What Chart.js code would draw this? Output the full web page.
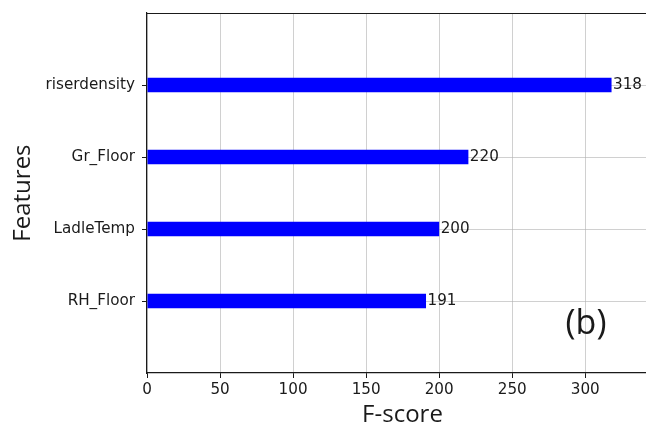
<!DOCTYPE html>
<html>
<head>
<meta charset="utf-8">
<script src="https://cdn.jsdelivr.net/npm/chart.js@4"></script>
<style>
  html, body { margin: 0; padding: 0; background: #fff; overflow: hidden; }
  #wrap { width: 646px; height: 427px; overflow: hidden; position: relative; }
  canvas { display: block; }
</style>
</head>
<body>
<div id="wrap"><canvas id="c" width="662" height="427"></canvas></div>
<script>
// Feature importance (F-score), listed top to bottom
const features = ['riserdensity', 'Gr_Floor', 'LadleTemp', 'RH_Floor'];
const fScores = [318, 220, 200, 191];
const xTickValues = [0, 50, 100, 150, 200, 250, 300];
const xLimit = 349.8;          // 1.1 x the largest score
const panelTag = '(b)';
const panelTagAt = { x: 300.5, y: 4.32 };

// blank slots above and below give the margins of the y range
const yLabels = ['', ...features, ''];
const yValues = [null, ...fScores, null];

const textColor = '#1a1a1a';
const spineColor = '#1a1a1a';
const gridColor = 'rgba(176,176,176,0.6)';
const smallFont = { family: 'DejaVu Sans', size: 15.2, lineHeight: 0.8 };

const overlay = {
  id: 'overlay',
  afterDraw(chart) {
    const { ctx, chartArea, scales } = chart;
    const xs = scales.x, ys = scales.y;
    ctx.save();
    // top spine
    ctx.strokeStyle = spineColor;
    ctx.lineWidth = 1.2;
    ctx.beginPath();
    ctx.moveTo(chartArea.left, Math.round(chartArea.top) + 0.5);
    ctx.lineTo(chartArea.right, Math.round(chartArea.top) + 0.5);
    ctx.stroke();
    // value labels at the bar ends
    ctx.fillStyle = textColor;
    ctx.font = smallFont.size + 'px "' + smallFont.family + '"';
    ctx.textAlign = 'left';
    ctx.textBaseline = 'middle';
    const meta = chart.getDatasetMeta(0);
    yValues.forEach((v, i) => {
      if (v === null) return;
      const bar = meta.data[i];
      ctx.fillText(String(v), xs.getPixelForValue(v + 1), bar.y);
    });
    // panel tag
    ctx.font = '34px "Open Sans"';
    ctx.textAlign = 'center';
    ctx.fillText(panelTag, xs.getPixelForValue(panelTagAt.x), ys.getPixelForValue(panelTagAt.y));
    ctx.restore();
  }
};

const hideBlank = (c, col) => (c.tick && c.tick.label === '') ? 'rgba(0,0,0,0)' : col;

new Chart(document.getElementById('c'), {
  type: 'bar',
  data: {
    labels: yLabels,
    datasets: [{
      data: yValues,
      backgroundColor: '#0000ff',
      borderWidth: 0,
      categoryPercentage: 1,
      barPercentage: 0.2
    }]
  },
  options: {
    indexAxis: 'y',
    responsive: false,
    animation: false,
    events: [],
    layout: { padding: { left: 0, top: 13, right: 4, bottom: 0 } },
    plugins: { legend: { display: false }, tooltip: { enabled: false } },
    scales: {
      x: {
        type: 'linear',
        min: 0,
        max: xLimit,
        z: 1,
        afterBuildTicks(scale) { scale.ticks = xTickValues.map(v => ({ value: v })); },
        afterFit(scale) { scale.height = 54; },
        grid: { color: gridColor, lineWidth: 1, tickColor: spineColor, tickLength: 5 },
        border: { color: spineColor, width: 1.2 },
        ticks: { color: textColor, font: smallFont, padding: 6, maxRotation: 0 },
        title: {
          display: true, text: 'F-score', color: textColor,
          font: { family: 'Open Sans', size: 24, lineHeight: 1 },
          padding: { top: 0, bottom: 0 }
        }
      },
      y: {
        type: 'category',
        offset: false,
        z: 1,
        afterFit(scale) { scale.width = 147; },
        grid: {
          offset: false,
          color: c => hideBlank(c, gridColor),
          tickColor: c => hideBlank(c, spineColor),
          lineWidth: 1, tickLength: 5
        },
        border: { color: spineColor, width: 1.2 },
        ticks: { color: textColor, font: smallFont, padding: 7, autoSkip: false },
        title: {
          display: true, text: 'Features', color: textColor,
          font: { family: 'Open Sans', size: 24, lineHeight: 1 },
          padding: { top: 11, bottom: 0 }
        }
      }
    }
  },
  plugins: [overlay]
});
</script>
</body>
</html>
